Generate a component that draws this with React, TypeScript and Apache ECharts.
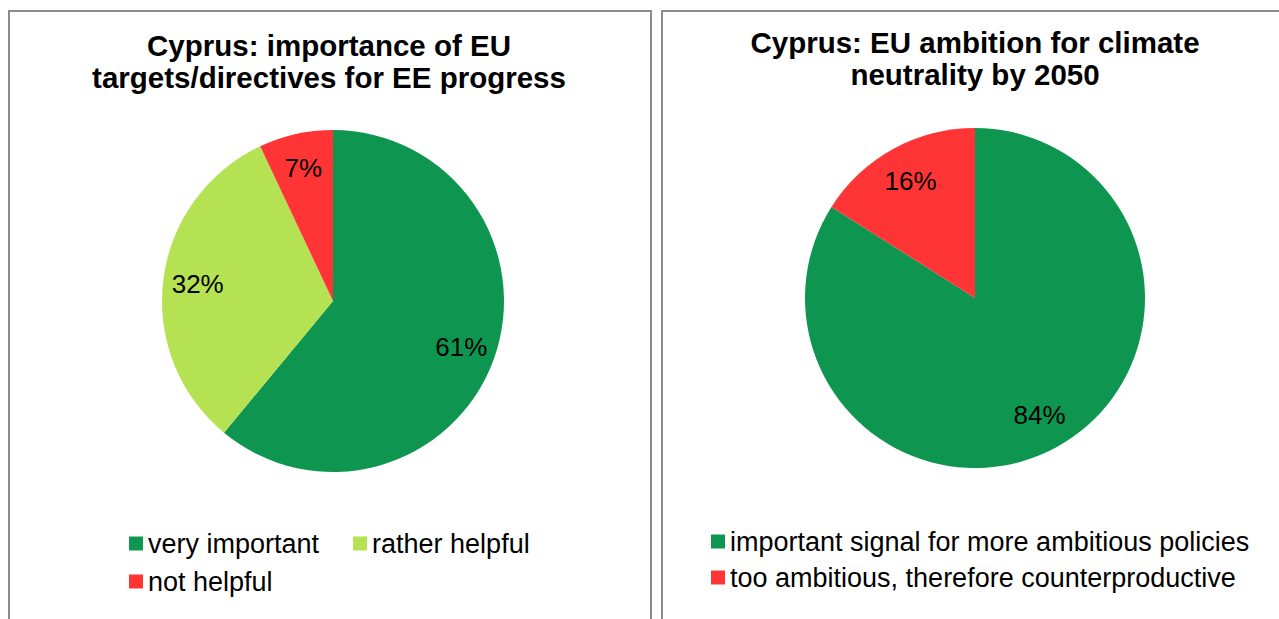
import React, { useEffect, useRef } from "react";
import * as echarts from "echarts";

const leftTitle = "Cyprus: importance of EU\ntargets/directives for EE progress";
const leftCategories = ["very important", "rather helpful", "not helpful"];
const leftValues = [61, 32, 7];
const leftColors = ["#0e9651", "#b5e252", "#ff3535"];

const rightTitle = "Cyprus: EU ambition for climate\nneutrality by 2050";
const rightCategories = [
  "important signal for more ambitious policies",
  "too ambitious, therefore counterproductive",
];
const rightValues = [84, 16];
const rightColors = ["#0e9651", "#ff3535"];

const FONT = "'Liberation Sans', Arial, Helvetica, sans-serif";

function pieData(cats: string[], vals: number[], colors: string[]) {
  return cats.map((name, i) => ({ name, value: vals[i], itemStyle: { color: colors[i] } }));
}

function labelData(cats: string[], vals: number[]) {
  return cats.map((name, i) => ({ name, value: vals[i] }));
}

export default function App() {
  const ref = useRef<HTMLDivElement>(null);
  useEffect(() => {
    if (!ref.current) return;
    const chart = echarts.init(ref.current, undefined, { renderer: "svg" });
    const lR = 171;
    const rR = 170;
    const lC = [333, 301];
    const rC = [975, 298];
    const legendText = { fontSize: 27, color: "#000", fontFamily: FONT };
    const baseMain = {
      type: "pie",
      startAngle: 90,
      clockwise: true,
      silent: true,
      label: { show: false },
      labelLine: { show: false },
      emphasis: { disabled: true },
      itemStyle: { borderWidth: 0 },
    };
    const baseLabel = {
      type: "pie",
      startAngle: 90,
      clockwise: true,
      silent: true,
      avoidLabelOverlap: false,
      itemStyle: { color: "rgba(0,0,0,0)", borderWidth: 0 },
      label: {
        show: true,
        position: "inside",
        formatter: "{c}%",
        fontSize: 26,
        color: "#000",
        fontFamily: FONT,
        rotate: 0,
      },
      labelLine: { show: false },
      emphasis: { disabled: true },
    };
    chart.setOption({
      animation: false,
      backgroundColor: "#fff",
      graphic: [
        {
          type: "rect",
          shape: { x: 9, y: 11, width: 642, height: 640 },
          style: { fill: "none", stroke: "#8c8c8c", lineWidth: 2 },
          silent: true,
        },
        {
          type: "rect",
          shape: { x: 662, y: 11, width: 660, height: 640 },
          style: { fill: "none", stroke: "#8c8c8c", lineWidth: 2 },
          silent: true,
        },
        {
          type: "text",
          x: 329,
          y: 29,
          style: {
            text: leftTitle,
            align: "center",
            verticalAlign: "top",
            font: `bold 29.5px ${FONT}`,
            lineHeight: 32,
            fill: "#000",
          },
          silent: true,
        },
        {
          type: "text",
          x: 975,
          y: 26,
          style: {
            text: rightTitle,
            align: "center",
            verticalAlign: "top",
            font: `bold 29.5px ${FONT}`,
            lineHeight: 32,
            fill: "#000",
          },
          silent: true,
        },
      ],
      legend: [
        {
          orient: "horizontal",
          left: 124,
          top: 525,
          itemWidth: 14,
          itemHeight: 14,
          itemGap: 34,
          icon: "rect",
          textStyle: legendText,
          selectedMode: false,
          data: leftCategories.slice(0, 2).map((name, i) => ({ name, itemStyle: { color: leftColors[i] } })),
        },
        {
          orient: "horizontal",
          left: 124,
          top: 563,
          itemWidth: 14,
          itemHeight: 14,
          icon: "rect",
          textStyle: legendText,
          selectedMode: false,
          data: leftCategories.slice(2).map((name, i) => ({ name, itemStyle: { color: leftColors[i + 2] } })),
        },
        {
          orient: "vertical",
          left: 706,
          top: 523,
          itemWidth: 14,
          itemHeight: 14,
          itemGap: 9,
          icon: "rect",
          textStyle: legendText,
          selectedMode: false,
          data: rightCategories.map((name, i) => ({ name, itemStyle: { color: rightColors[i] } })),
        },
      ],
      series: [
        { ...baseMain, center: lC, radius: [0, lR], data: pieData(leftCategories, leftValues, leftColors) },
        { ...baseLabel, center: lC, radius: [lR * 0.56, lR], data: labelData(leftCategories, leftValues) },
        { ...baseMain, center: rC, radius: [0, rR], data: pieData(rightCategories, rightValues, rightColors) },
        { ...baseLabel, center: rC, radius: [rR * 0.54, rR], data: labelData(rightCategories, rightValues) },
      ],
    });
    return () => chart.dispose();
  }, []);
  return (
    <div
      ref={ref}
      style={{ position: "fixed", left: 0, top: 0, width: 1279, height: 619, background: "#fff" }}
    />
  );
}
